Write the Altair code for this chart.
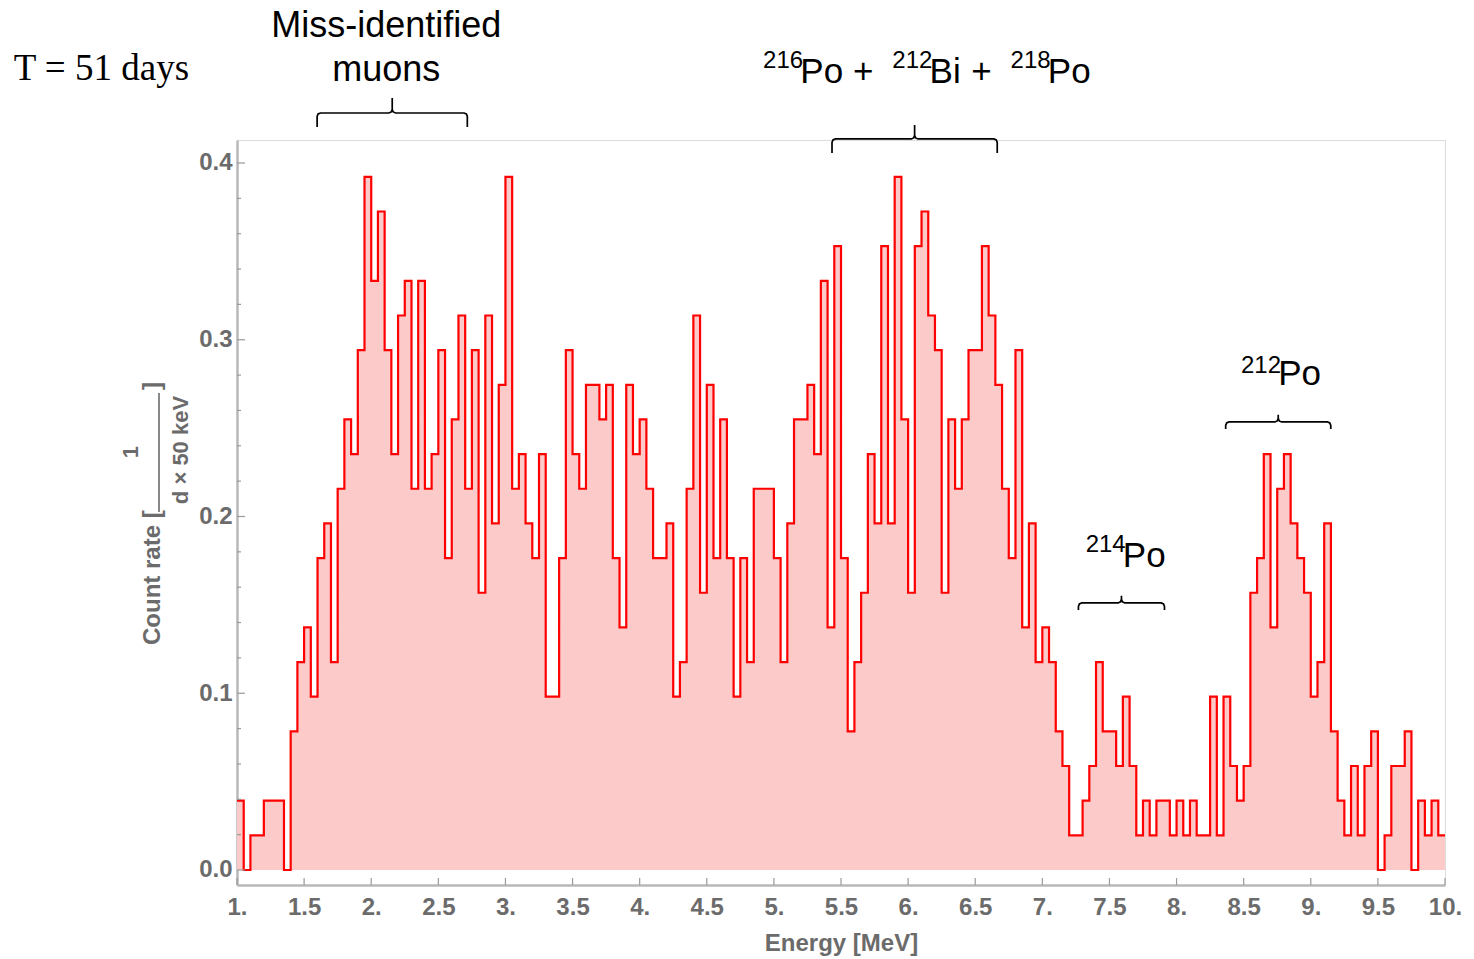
import altair as alt
import pandas as pd

# ---------------- data (counts per 50 keV bin, measured over T = 51 days) ----------------
T_DAYS = 51
BIN_WIDTH = 0.05
E_MIN, E_MAX = 1.0, 10.0

counts_1_00_to_2_45 = [2, 0, 1, 1, 2, 2, 2, 0, 4, 6, 7, 5, 9, 10, 6, 11, 13, 12, 15, 20,
                       17, 19, 15, 12, 16, 17, 11, 17, 11, 12]
counts_2_50_to_3_95 = [15, 9, 13, 16, 11, 15, 8, 16, 10, 14, 20, 11, 12, 10, 9, 12, 5, 5, 9, 15,
                       12, 11, 14, 14, 13, 14, 9, 7, 14, 12]
counts_4_00_to_5_45 = [13, 11, 9, 9, 10, 5, 6, 11, 16, 8, 14, 9, 13, 9, 5, 9, 6, 11, 11, 11,
                       9, 6, 10, 13, 13, 14, 12, 17, 7, 18]
counts_5_50_to_6_95 = [9, 4, 6, 8, 12, 10, 18, 10, 20, 13, 8, 18, 19, 16, 15, 8, 13, 11, 13, 15,
                       15, 18, 16, 14, 11, 9, 15, 7, 10, 6]
counts_7_00_to_8_45 = [7, 6, 4, 3, 1, 1, 2, 3, 6, 4, 4, 3, 5, 3, 1, 2, 1, 2, 2, 1,
                       2, 1, 2, 1, 1, 5, 1, 5, 3, 2]
counts_8_50_to_9_95 = [3, 8, 9, 12, 7, 11, 12, 10, 9, 8, 5, 6, 10, 4, 2, 1, 3, 1, 3, 4,
                       0, 1, 3, 3, 4, 0, 2, 1, 2, 1]

x_tick_values = [1.0, 1.5, 2.0, 2.5, 3.0, 3.5, 4.0, 4.5, 5.0, 5.5, 6.0, 6.5, 7.0, 7.5, 8.0,
                 8.5, 9.0, 9.5, 10.0]
y_major_ticks = [0.0, 0.1, 0.2, 0.3, 0.4]
y_minor_ticks = [0.02, 0.04, 0.06, 0.08, 0.12, 0.14, 0.16, 0.18, 0.22, 0.24, 0.26, 0.28,
                 0.32, 0.34, 0.36, 0.38]

# annotation braces: name, start energy, end energy, level (count rate), drop, rise
braces = [
    ("muons", 1.597, 2.716, 0.4283, 0.0079, 0.0085),
    ("group", 5.433, 6.664, 0.4136, 0.0079, 0.0079),
    ("po214", 7.269, 7.910, 0.1511, 0.0040, 0.0040),
    ("po212", 8.366, 9.149, 0.2535, 0.0040, 0.0040),
]

# element symbols (left-aligned): text, energy, level, font size
label_main = [
    ("Po", 5.197, 0.4453, 35), ("+", 5.590, 0.4453, 35), ("Bi", 6.160, 0.4453, 35),
    ("+", 6.471, 0.4453, 35), ("Po", 7.041, 0.4453, 35),
    ("Po", 7.600, 0.1714, 35), ("Po", 8.757, 0.2744, 35),
]
# mass numbers (right-aligned, superscript): text, energy, level, font size
label_sup = [
    ("216", 5.218, 0.4537, 24), ("212", 6.181, 0.4537, 24), ("218", 7.062, 0.4537, 24),
    ("214", 7.621, 0.1799, 24), ("212", 8.778, 0.2812, 24),
]
centered_labels = [("Miss-identified", 2.112, 0.4713, 36), ("muons", 2.112, 0.4462, 36)]
serif_labels = [("T = 51 days", -0.664, 0.4470, 37)]

# ---------------- tables ----------------
counts = (counts_1_00_to_2_45 + counts_2_50_to_3_95 + counts_4_00_to_5_45 +
          counts_5_50_to_6_95 + counts_7_00_to_8_45 + counts_8_50_to_9_95)
bin_lo = [round(E_MIN + BIN_WIDTH * i, 2) for i in range(len(counts))]
rates = [c / T_DAYS for c in counts]
hist = pd.DataFrame({"E": bin_lo + [E_MAX], "rate": rates + [rates[-1]]})

brace_rows = []
for name, e0, e1, lvl, drop, rise in braces:
    dx, dy = 0.025, 0.002
    ec = (e0 + e1) / 2
    pts = [(e0, lvl - drop), (e0, lvl - dy), (e0 + 0.29 * dx, lvl - 0.29 * dy), (e0 + dx, lvl),
           (ec - dx, lvl), (ec - 0.29 * dx, lvl + 0.29 * dy), (ec, lvl + dy), (ec, lvl + rise),
           (ec, lvl + dy), (ec + 0.29 * dx, lvl + 0.29 * dy), (ec + dx, lvl),
           (e1 - dx, lvl), (e1 - 0.29 * dx, lvl - 0.29 * dy), (e1, lvl - dy), (e1, lvl - drop)]
    for i, (e, r) in enumerate(pts):
        brace_rows.append({"name": name, "i": i, "E": e, "rate": r})
brace_df = pd.DataFrame(brace_rows)

main_df = pd.DataFrame(label_main, columns=["txt", "E", "rate", "fs"])
sup_df = pd.DataFrame(label_sup, columns=["txt", "E", "rate", "fs"])
centered_df = pd.DataFrame(centered_labels, columns=["txt", "E", "rate", "fs"])
serif_df = pd.DataFrame(serif_labels, columns=["txt", "E", "rate", "fs"])
ymaj_df = pd.DataFrame({"rate": y_major_ticks})
ymin_df = pd.DataFrame({"rate": y_minor_ticks})
xt_df = pd.DataFrame({"E": x_tick_values})

# ---------------- styling ----------------
W, H = 1208, 745
GRAY = "#6b6b6b"
FONT = "Liberation Sans, Arial, sans-serif"
xscale = alt.Scale(domain=[E_MIN, E_MAX], nice=False, zero=False)
yscale = alt.Scale(domain=[-0.00849, 0.41301], nice=False, zero=False)

x_axis = alt.Axis(values=x_tick_values,
                  labelExpr="datum.value % 1 === 0 ? format(datum.value, 'd') + '.' : format(datum.value, '.1f')",
                  ticks=False, tickSize=0, grid=False, labelFlush=False, labelOverlap=False,
                  domainColor="#b8b8b8", domainWidth=2.5,
                  labelFont=FONT, labelFontWeight="bold", labelFontSize=24, labelColor=GRAY,
                  labelPadding=10, title="Energy [MeV]", titleFont=FONT, titleFontWeight="bold",
                  titleFontSize=24, titleColor=GRAY, titlePadding=12)
y_axis = alt.Axis(values=y_major_ticks, format=".1f", ticks=False, tickSize=0, grid=False,
                  labelFlush=False, labelOverlap=False,
                  domainColor="#b8b8b8", domainWidth=2.5,
                  labelFont=FONT, labelFontWeight="bold", labelFontSize=24, labelColor=GRAY,
                  labelPadding=5, title=None)

base = alt.Chart(hist)
area = base.mark_area(interpolate="step-after", color="#fdcaca", opacity=1).encode(
    x=alt.X("E:Q", scale=xscale, axis=x_axis),
    y=alt.Y("rate:Q", scale=yscale, axis=y_axis),
)
line = base.mark_line(interpolate="step-after", color="#ff0000", strokeWidth=2.2).encode(
    x=alt.X("E:Q"), y=alt.Y("rate:Q"))

ymaj = alt.Chart(ymaj_df).mark_rule(color="#9a9a9a", strokeWidth=1.2).encode(
    y=alt.Y("rate:Q"), x=alt.value(0), x2=alt.value(8))
ymin = alt.Chart(ymin_df).mark_rule(color="#9a9a9a", strokeWidth=1.2).encode(
    y=alt.Y("rate:Q"), x=alt.value(0), x2=alt.value(4))
xt = alt.Chart(xt_df).mark_rule(color="#9a9a9a", strokeWidth=1.2).encode(
    x=alt.X("E:Q"), y=alt.value(H), y2=alt.value(H - 7))

brace_layer = alt.Chart(brace_df).mark_line(color="black", strokeWidth=1.7).encode(
    x=alt.X("E:Q"), y=alt.Y("rate:Q"), detail="name:N", order="i:Q")


def text_layer(df, align, font):
    return alt.Chart(df).mark_text(align=align, baseline="alphabetic", font=font,
                                   color="black").encode(
        x=alt.X("E:Q"), y=alt.Y("rate:Q"), text="txt:N",
        size=alt.Size("fs:Q", scale=None, legend=None))


main_txt = text_layer(main_df, "left", FONT)
sup_txt = text_layer(sup_df, "right", FONT)
centered = text_layer(centered_df, "center", FONT)
serif = text_layer(serif_df, "left", "Liberation Serif, Times New Roman, serif")

# y-axis title built as "Count rate [ 1 / (d x 50 keV) ]"
ytitle_main = alt.Chart(pd.DataFrame({"t": ["Count rate ["]})).mark_text(
    align="left", baseline="middle", angle=270, font=FONT, fontWeight="bold", fontSize=24,
    color=GRAY).encode(text="t:N", x=alt.value(-84), y=alt.value(505))
ytitle_num = alt.Chart(pd.DataFrame({"t": ["1"]})).mark_text(
    align="center", baseline="middle", angle=270, font=FONT, fontWeight="bold", fontSize=22,
    color=GRAY).encode(text="t:N", x=alt.value(-106), y=alt.value(312))
ytitle_den = alt.Chart(pd.DataFrame({"t": ["d \u00d7 50 keV"]})).mark_text(
    align="center", baseline="middle", angle=270, font=FONT, fontWeight="bold", fontSize=22,
    color=GRAY).encode(text="t:N", x=alt.value(-56), y=alt.value(310))
ytitle_bar = alt.Chart(pd.DataFrame({"t": [1]})).mark_rule(color=GRAY, strokeWidth=1.6).encode(
    x=alt.value(-78), y=alt.value(372), y2=alt.value(253))
ytitle_close = alt.Chart(pd.DataFrame({"t": ["]"]})).mark_text(
    align="center", baseline="middle", angle=270, font=FONT, fontWeight="bold", fontSize=24,
    color=GRAY).encode(text="t:N", x=alt.value(-84), y=alt.value(246))

chart = alt.layer(
    area, line, ymaj, ymin, xt, brace_layer, main_txt, sup_txt, centered, serif,
    ytitle_main, ytitle_num, ytitle_den, ytitle_bar, ytitle_close,
).properties(
    width=W, height=H,
    padding={"left": 237, "top": 140, "right": 29, "bottom": 74},
    autosize=alt.AutoSizeParams(type="none"),
    background="white",
).configure_view(stroke="#dcdcdc", strokeWidth=1)

chart.save("out.html", embed_options={"renderer": "svg", "actions": False})
